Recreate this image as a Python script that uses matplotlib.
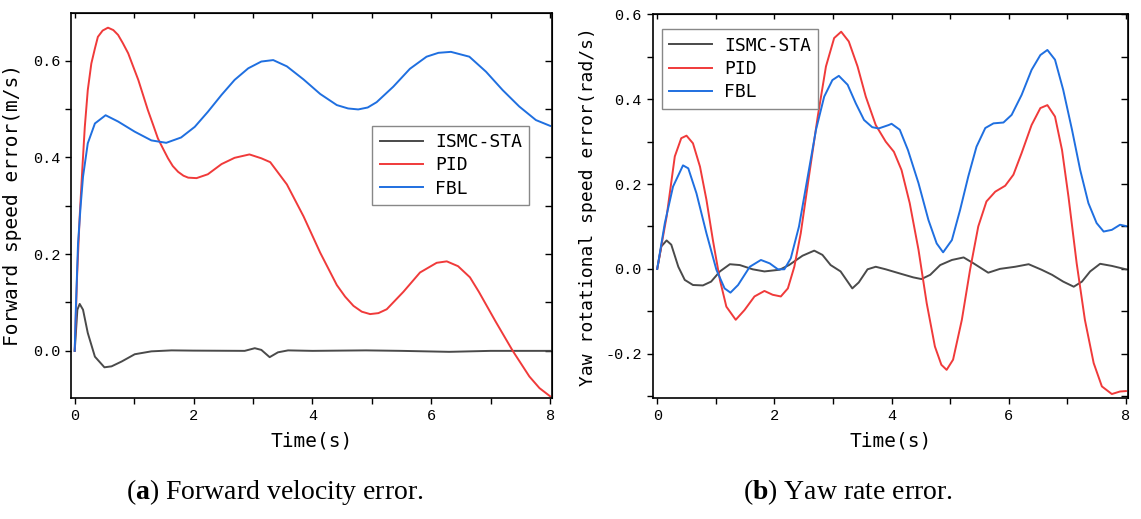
import matplotlib

matplotlib.use("Agg")
import matplotlib.pyplot as plt
from matplotlib.ticker import MultipleLocator

# ---- data ------------------------------------------------------------------
series_names = ["ISMC-STA", "PID", "FBL"]

# (a) forward speed error (m/s)
t_fwd_ismc = [0, 0.045, 0.084, 0.14, 0.22, 0.34, 0.50, 0.62, 0.79, 1.01, 1.29,
              1.63, 2.0, 2.86, 3.03, 3.14, 3.28, 3.42, 3.59, 4.0, 4.9, 5.5,
              6.3, 7.0, 8.0]
v_fwd_ismc = [0, 0.085, 0.097, 0.085, 0.037, -0.012, -0.034, -0.032, -0.022,
              -0.007, -0.001, 0.001, 0.0005, 0.0, 0.0055, 0.002, -0.013,
              -0.003, 0.001, 0.0, 0.001, 0.0, -0.002, 0.0, 0.0]

t_fwd_pid = [0, 0.04, 0.084, 0.13, 0.17, 0.22, 0.28, 0.34, 0.39, 0.47, 0.56,
             0.65, 0.73, 0.81, 0.90, 0.98, 1.07, 1.15, 1.23, 1.32, 1.40, 1.49,
             1.57, 1.65, 1.74, 1.83, 1.91, 2.05, 2.24, 2.47, 2.69, 2.94, 3.14,
             3.29, 3.57, 3.85, 4.13, 4.41, 4.55, 4.69, 4.83, 4.97, 5.11, 5.25,
             5.53, 5.81, 6.09, 6.26, 6.45, 6.65, 6.80, 7.08, 7.37, 7.65, 7.82,
             8.0]
v_fwd_pid = [0, 0.154, 0.278, 0.38, 0.463, 0.539, 0.594, 0.625, 0.649, 0.662,
             0.668, 0.663, 0.653, 0.636, 0.615, 0.589, 0.56, 0.529, 0.498,
             0.467, 0.439, 0.417, 0.398, 0.382, 0.37, 0.362, 0.358, 0.357,
             0.365, 0.386, 0.399, 0.406, 0.398, 0.39, 0.344, 0.278, 0.203,
             0.136, 0.112, 0.093, 0.081, 0.076, 0.078, 0.086, 0.122, 0.162,
             0.182, 0.185, 0.175, 0.152, 0.122, 0.061, 0.0, -0.053, -0.077,
             -0.094]

t_fwd_fbl = [0, 0.02, 0.056, 0.10, 0.14, 0.22, 0.34, 0.52, 0.73, 1.01, 1.29,
             1.54, 1.79, 2.02, 2.24, 2.47, 2.69, 2.92, 3.14, 3.34, 3.57, 3.85,
             4.13, 4.41, 4.60, 4.77, 4.93, 5.08, 5.36, 5.64, 5.92, 6.12, 6.33,
             6.64, 6.92, 7.20, 7.48, 7.76, 8.0]
v_fwd_fbl = [0, 0.09, 0.222, 0.30, 0.36, 0.429, 0.47, 0.487, 0.474, 0.453,
             0.435, 0.43, 0.441, 0.463, 0.494, 0.529, 0.56, 0.584, 0.598, 0.601,
             0.588, 0.561, 0.531, 0.508, 0.501, 0.499, 0.503, 0.514, 0.546,
             0.583, 0.608, 0.616, 0.618, 0.608, 0.577, 0.539, 0.505, 0.477,
             0.465]

# (b) yaw rate error (rad/s)
t_yaw_ismc = [0, 0.07, 0.16, 0.24, 0.36, 0.47, 0.61, 0.78, 0.92, 1.07, 1.24,
              1.41, 1.63, 1.83, 2.09, 2.25, 2.48, 2.68, 2.82, 2.96, 3.13, 3.25,
              3.33, 3.44, 3.59, 3.73, 3.90, 4.17, 4.37, 4.51, 4.66, 4.83, 5.03,
              5.23, 5.40, 5.65, 5.85, 6.11, 6.34, 6.56, 6.74, 6.93, 7.11, 7.25,
              7.39, 7.56, 7.76, 8.0]
v_yaw_ismc = [0, 0.053, 0.067, 0.057, 0.005, -0.026, -0.038, -0.039, -0.03,
              -0.006, 0.011, 0.009, -0.001, -0.006, -0.002, 0.009, 0.031,
              0.043, 0.033, 0.009, -0.006, -0.03, -0.046, -0.032, -0.001,
              0.005, -0.001, -0.012, -0.02, -0.024, -0.014, 0.009, 0.021,
              0.027, 0.013, -0.009, 0.0, 0.005, 0.011, -0.002, -0.014, -0.03,
              -0.042, -0.03, -0.006, 0.012, 0.007, -0.001]

t_yaw_pid = [0, 0.16, 0.30, 0.41, 0.50, 0.61, 0.73, 0.84, 0.95, 1.07, 1.18,
             1.34, 1.49, 1.66, 1.83, 1.97, 2.11, 2.23, 2.34, 2.45, 2.59, 2.74,
             2.88, 3.02, 3.14, 3.27, 3.42, 3.56, 3.73, 3.90, 4.04, 4.17, 4.31,
             4.46, 4.60, 4.74, 4.85, 4.94, 5.05, 5.20, 5.34, 5.48, 5.62, 5.77,
             5.94, 6.08, 6.22, 6.39, 6.54, 6.66, 6.79, 6.91, 7.02, 7.16, 7.30,
             7.45, 7.59, 7.76, 7.90, 8.0]
v_yaw_pid = [0, 0.123, 0.265, 0.308, 0.314, 0.296, 0.241, 0.163, 0.068,
             -0.026, -0.089, -0.12, -0.097, -0.065, -0.052, -0.061, -0.065,
             -0.046, 0.005, 0.084, 0.218, 0.359, 0.477, 0.544, 0.559, 0.536,
             0.477, 0.406, 0.339, 0.30, 0.276, 0.233, 0.155, 0.045, -0.081,
             -0.183, -0.226, -0.238, -0.214, -0.12, -0.002, 0.10, 0.159, 0.182,
             0.196, 0.222, 0.273, 0.339, 0.379, 0.386, 0.359, 0.28, 0.17,
             0.013, -0.12, -0.222, -0.277, -0.295, -0.289, -0.288]

t_yaw_fbl = [0, 0.13, 0.27, 0.44, 0.53, 0.67, 0.84, 1.01, 1.15, 1.25, 1.38,
             1.58, 1.77, 1.92, 2.06, 2.17, 2.28, 2.42, 2.57, 2.71, 2.85, 2.99,
             3.10, 3.25, 3.39, 3.53, 3.67, 3.78, 3.95, 4.0, 4.14, 4.28, 4.46,
             4.63, 4.77, 4.88, 5.03, 5.17, 5.31, 5.45, 5.60, 5.74, 5.91, 6.05,
             6.22, 6.39, 6.54, 6.66, 6.79, 6.93, 7.08, 7.22, 7.36, 7.50, 7.62,
             7.76, 7.90, 8.0]
v_yaw_fbl = [0, 0.108, 0.194, 0.244, 0.237, 0.178, 0.084, -0.002, -0.046,
             -0.056, -0.038, 0.005, 0.021, 0.013, -0.001, -0.001, 0.025, 0.10,
             0.218, 0.328, 0.406, 0.445, 0.455, 0.434, 0.39, 0.351, 0.334,
             0.331, 0.339, 0.342, 0.328, 0.28, 0.202, 0.115, 0.06, 0.039,
             0.068, 0.139, 0.218, 0.288, 0.332, 0.343, 0.345, 0.363, 0.41,
             0.469, 0.504, 0.516, 0.493, 0.422, 0.328, 0.233, 0.155, 0.108,
             0.088, 0.092, 0.104, 0.101]

# ---- style ---------------------------------------------------------------
COLORS = ["#4a4a4a", "#f03a3a", "#1f6fe0"]
MONO = "DejaVu Sans Mono"
TICKFONT = "Liberation Mono"

plt.rcParams["axes.unicode_minus"] = False
plt.rcParams["mathtext.fontset"] = "custom"
plt.rcParams["mathtext.rm"] = "Liberation Serif"
plt.rcParams["mathtext.bf"] = "Liberation Serif:bold"


def style_axes(ax):
    ax.xaxis.set_major_locator(MultipleLocator(2))
    ax.xaxis.set_minor_locator(MultipleLocator(1))
    ax.yaxis.set_major_locator(MultipleLocator(0.2))
    ax.yaxis.set_minor_locator(MultipleLocator(0.1))
    for which in ("major", "minor"):
        ax.tick_params(which=which, direction="out", length=4.5, width=1.0,
                       top=False, right=False, labelsize=11)
    for lab in ax.get_xticklabels() + ax.get_yticklabels():
        lab.set_fontfamily(TICKFONT)
    # inward ticks mirrored on top / right
    top = ax.secondary_xaxis("top")
    top.xaxis.set_major_locator(MultipleLocator(1))
    top.tick_params(direction="in", length=3.5, width=1.0, labeltop=False)
    right = ax.secondary_yaxis("right")
    right.yaxis.set_major_locator(MultipleLocator(0.1))
    right.tick_params(direction="in", length=5, width=1.0, labelright=False)
    for sp in ax.spines.values():
        sp.set_linewidth(1.2)


def draw(ax, curves):
    for (t, v), name, c in zip(curves, series_names, COLORS):
        ax.plot(t, v, color=c, lw=1.4, label=name, solid_joinstyle="round")


def add_legend(ax, anchor):
    ax.legend(loc="upper left", bbox_to_anchor=anchor, fancybox=False,
              edgecolor="#888888", framealpha=1, borderaxespad=0,
              prop={"family": MONO, "size": 13}, handlelength=2.4,
              handletextpad=0.65, labelspacing=0.3, borderpad=0.4)


fig = plt.figure(figsize=(11.41, 5.19), dpi=100)

ax1 = fig.add_axes([0.0625, 0.2326, 0.421, 0.743])
draw(ax1, [(t_fwd_ismc, v_fwd_ismc), (t_fwd_pid, v_fwd_pid), (t_fwd_fbl, v_fwd_fbl)])
ax1.set_xlim(-0.057, 8.025)
ax1.set_ylim(-0.098, 0.699)
style_axes(ax1)
ax1.set_xlabel("Time(s)", fontfamily=MONO, fontsize=14, labelpad=6)
ax1.set_ylabel("Forward speed error(m/s)", fontfamily=MONO, fontsize=14, labelpad=8)
add_legend(ax1, (0.627, 0.707))

ax2 = fig.add_axes([0.572, 0.2326, 0.4163, 0.7398])
draw(ax2, [(t_yaw_ismc, v_yaw_ismc), (t_yaw_pid, v_yaw_pid), (t_yaw_fbl, v_yaw_fbl)])
ax2.set_xlim(-0.078, 8.03)
ax2.set_ylim(-0.305, 0.6)
style_axes(ax2)
ax2.set_xlabel("Time(s)", fontfamily=MONO, fontsize=14, labelpad=6)
ax2.set_ylabel("Yaw rotational speed error(rad/s)", fontfamily=MONO, fontsize=13, labelpad=6)
add_legend(ax2, (0.019, 0.961))

fig.text(0.2407, 0.052, r"($\mathbf{a}$) Forward velocity error.", ha="center",
         va="center", fontsize=20, fontfamily="Liberation Serif")
fig.text(0.743, 0.052, r"($\mathbf{b}$) Yaw rate error.", ha="center",
         va="center", fontsize=20, fontfamily="Liberation Serif")

fig.savefig("out.png", dpi=100)
